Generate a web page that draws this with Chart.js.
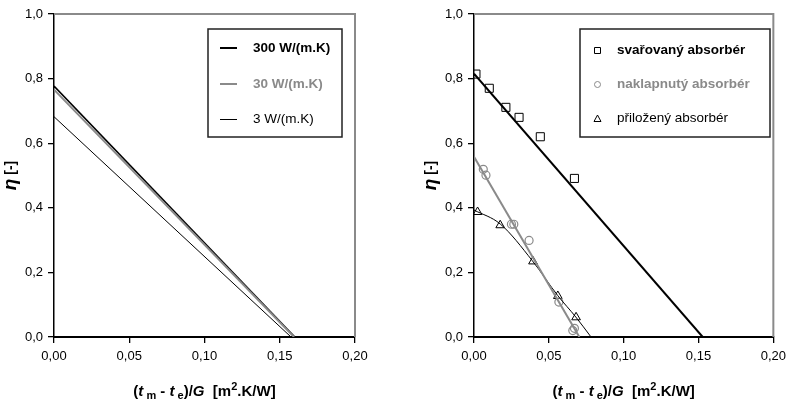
<!DOCTYPE html>
<html>
<head>
<meta charset="utf-8">
<script src="https://cdn.jsdelivr.net/npm/chart.js@4/dist/chart.umd.min.js"></script>
<style>
  html, body { margin: 0; padding: 0; background: #fff; }
  #wrap { position: relative; width: 792px; height: 401px; }
  canvas { position: absolute; top: 0; }
  #c1 { left: 0; }
  #c2 { left: 396px; }
</style>
</head>
<body>
<div id="wrap">
  <canvas id="c1" width="396" height="401"></canvas>
  <canvas id="c2" width="396" height="401"></canvas>
</div>
<script>
// ---------- Data ----------
const xTicks = [0, 0.05, 0.10, 0.15, 0.20];
const yTicks = [0, 0.2, 0.4, 0.6, 0.8, 1.0];

// Left chart: efficiency lines for different conductivities
const leftLabels = ['300 W/(m.K)', '30 W/(m.K)', '3 W/(m.K)'];
const line300X = [0, 0.160];
const line300Y = [0.777, 0];
const line30X  = [0, 0.1595];
const line30Y  = [0.766, 0];
const line3X   = [0, 0.1575];
const line3Y   = [0.682, 0];

// Right chart: measured points
const rightLabels = ['svařovaný absorbér', 'naklapnutý absorbér', 'přiložený absorbér'];
const svarX = [0.0013, 0.0102, 0.0213, 0.0301, 0.0443, 0.0671];
const svarY = [0.814, 0.770, 0.711, 0.680, 0.620, 0.491];
const svarFitX = [0, 0.1528];
const svarFitY = [0.815, 0];

const naklX = [0.0062, 0.0080, 0.0250, 0.0266, 0.0368, 0.0567, 0.0660, 0.0671];
const naklY = [0.519, 0.501, 0.349, 0.349, 0.299, 0.108, 0.020, 0.027];
const naklFitX = [0, 0.0704];
const naklFitY = [0.558, 0];

const prilX = [0.0024, 0.0175, 0.0394, 0.0560, 0.0682];
const prilY = [0.387, 0.346, 0.234, 0.127, 0.061];
const prilFitX = [0, 0.0175, 0.039, 0.056, 0.068, 0.0782];
const prilFitY = [0.393, 0.350, 0.236, 0.128, 0.062, 0];

const GRAY = '#8a8a8a';
const FONT = "'Liberation Sans', Arial, sans-serif";

function pts(xs, ys) { return xs.map((x, i) => ({ x: x, y: ys[i] })); }

function scalesCfg() {
  return {
    x: {
      type: 'linear', min: 0, max: 0.2,
      afterBuildTicks: s => { s.ticks = xTicks.map(v => ({ value: v })); },
      afterFit: s => { s.height = 64; },
      ticks: {
        color: '#000', font: { family: FONT, size: 13 }, padding: 6,
        callback: v => v.toFixed(2).replace('.', ',')
      },
      grid: { drawOnChartArea: false, drawTicks: true, tickLength: 6, color: '#000', lineWidth: 1.3 },
      border: { display: true, color: '#000', width: 2 }
    },
    y: {
      type: 'linear', min: 0, max: 1,
      afterBuildTicks: s => { s.ticks = yTicks.map(v => ({ value: v })); },
      afterFit: s => { s.width = 54; },
      ticks: {
        color: '#000', font: { family: FONT, size: 13 }, padding: 5,
        callback: v => v.toFixed(1).replace('.', ',')
      },
      grid: { drawOnChartArea: false, drawTicks: true, tickLength: 6, color: '#000', lineWidth: 1.3 },
      border: { display: true, color: '#000', width: 1.5 }
    }
  };
}

// frame (top & right gray) + axis titles
const decor = {
  id: 'decor',
  beforeDatasetsDraw(chart) {
    const { ctx, chartArea: a } = chart;
    ctx.save();
    ctx.strokeStyle = GRAY;
    ctx.lineWidth = 2;
    ctx.beginPath();
    ctx.moveTo(a.left, a.top);
    ctx.lineTo(a.right, a.top);
    ctx.lineTo(a.right, a.bottom);
    ctx.stroke();
    ctx.restore();
  },
  afterDraw(chart) {
    const { ctx, chartArea: a } = chart;
    ctx.save();
    // X title with sub/superscripts
    const B = 'bold 15px ' + FONT, I = 'italic bold 15px ' + FONT, S = 'bold 11px ' + FONT;
    const parts = [
      { t: '(', f: B, dy: 0 },
      { t: 't', f: I, dy: 0 },
      { t: ' m', f: S, dy: 3 },
      { t: ' - ', f: B, dy: 0 },
      { t: 't', f: I, dy: 0 },
      { t: ' e', f: S, dy: 3 },
      { t: ')/', f: B, dy: 0 },
      { t: 'G', f: I, dy: 0 },
      { t: '  [m', f: B, dy: 0 },
      { t: '2', f: S, dy: -6 },
      { t: '.K/W]', f: B, dy: 0 }
    ];
    let total = 0;
    parts.forEach(p => { ctx.font = p.f; p.w = ctx.measureText(p.t).width; total += p.w; });
    let x = (a.left + a.right) / 2 - total / 2;
    const yb = 396;
    ctx.fillStyle = '#000';
    ctx.textBaseline = 'alphabetic';
    ctx.textAlign = 'left';
    parts.forEach(p => { ctx.font = p.f; ctx.fillText(p.t, x, yb + p.dy); x += p.w; });

    // Y title rotated
    const cy = (a.top + a.bottom) / 2;
    ctx.translate(a.left - 43, cy);
    ctx.rotate(-Math.PI / 2);
    const yp = [
      { t: 'η', f: 'italic bold 19px ' + FONT },
      { t: ' [-]', f: 'bold 14px ' + FONT }
    ];
    let tw = 0;
    yp.forEach(p => { ctx.font = p.f; p.w = ctx.measureText(p.t).width; tw += p.w; });
    let xx = -tw / 2;
    ctx.textBaseline = 'middle';
    yp.forEach(p => { ctx.font = p.f; ctx.fillText(p.t, xx, 0); xx += p.w; });
    ctx.restore();
  }
};

function drawMarker(ctx, type, x, y, color) {
  ctx.save();
  ctx.strokeStyle = color;
  ctx.lineWidth = 1;
  ctx.beginPath();
  if (type === 'rect') { ctx.rect(x - 3, y - 3, 6, 6); }
  else if (type === 'circle') { ctx.arc(x, y, 3, 0, Math.PI * 2); }
  else { ctx.moveTo(x, y - 3.5); ctx.lineTo(x + 3.5, y + 3); ctx.lineTo(x - 3.5, y + 3); ctx.closePath(); }
  ctx.stroke();
  ctx.restore();
}

function legendPlugin(cfg) {
  return {
    id: 'boxLegend',
    afterDraw(chart) {
      const ctx = chart.ctx;
      ctx.save();
      ctx.fillStyle = '#fff';
      ctx.fillRect(cfg.x, cfg.y, cfg.w, cfg.h);
      ctx.strokeStyle = '#222';
      ctx.lineWidth = 1.5;
      ctx.strokeRect(cfg.x, cfg.y, cfg.w, cfg.h);
      cfg.items.forEach((it, i) => {
        const yy = Math.round(cfg.y + cfg.first + i * cfg.gap);
        if (it.line) {
          ctx.strokeStyle = it.color;
          ctx.lineWidth = it.lw;
          const ly = it.lw % 2 === 1 ? yy + 0.5 : yy;
          ctx.beginPath();
          ctx.moveTo(cfg.mx, ly);
          ctx.lineTo(cfg.mx + 17, ly);
          ctx.stroke();
        } else {
          drawMarker(ctx, it.marker, cfg.mx + 0.5, yy + 0.5, it.color);
        }
        ctx.font = (it.bold ? 'bold ' : '') + '13.5px ' + FONT;
        ctx.fillStyle = it.textColor;
        ctx.textBaseline = 'middle';
        ctx.textAlign = 'left';
        ctx.fillText(it.label, cfg.tx, yy);
      });
      ctx.restore();
    }
  };
}

// ---------- Left chart ----------
new Chart(document.getElementById('c1'), {
  type: 'scatter',
  data: {
    datasets: [
      { label: leftLabels[2], data: pts(line3X, line3Y), showLine: true, borderColor: '#000', borderWidth: 1, pointRadius: 0 },
      { label: leftLabels[1], data: pts(line30X, line30Y), showLine: true, borderColor: GRAY, borderWidth: 2, pointRadius: 0 },
      { label: leftLabels[0], data: pts(line300X, line300Y), showLine: true, borderColor: '#000', borderWidth: 1.6, pointRadius: 0 }
    ]
  },
  options: {
    responsive: false, animation: false,
    layout: { padding: { left: 0, right: 41, top: 14, bottom: 0 } },
    plugins: { legend: { display: false }, tooltip: { enabled: false } },
    scales: scalesCfg()
  },
  plugins: [decor, legendPlugin({
    x: 208, y: 29, w: 134, h: 108, first: 19, gap: 35.5, mx: 220, tx: 253,
    items: [
      { line: true, color: '#000', lw: 2, label: leftLabels[0], textColor: '#000', bold: true },
      { line: true, color: GRAY, lw: 2, label: leftLabels[1], textColor: GRAY, bold: true },
      { line: true, color: '#000', lw: 1, label: leftLabels[2], textColor: '#000', bold: false }
    ]
  })]
});

// ---------- Right chart ----------
new Chart(document.getElementById('c2'), {
  type: 'scatter',
  data: {
    datasets: [
      { label: 'fit1', data: pts(svarFitX, svarFitY), showLine: true, borderColor: '#000', borderWidth: 2, pointRadius: 0 },
      { label: 'fit2', data: pts(naklFitX, naklFitY), showLine: true, borderColor: GRAY, borderWidth: 2, pointRadius: 0 },
      { label: 'fit3', data: pts(prilFitX, prilFitY), showLine: true, borderColor: '#000', borderWidth: 1, pointRadius: 0, cubicInterpolationMode: 'monotone' },
      { label: rightLabels[0], data: pts(svarX, svarY), pointStyle: 'rect', pointRadius: 5.7, borderColor: '#000', borderWidth: 1, backgroundColor: 'rgba(0,0,0,0)' },
      { label: rightLabels[1], data: pts(naklX, naklY), pointStyle: 'circle', pointRadius: 4, borderColor: GRAY, borderWidth: 1.2, backgroundColor: 'rgba(0,0,0,0)' },
      { label: rightLabels[2], data: pts(prilX, prilY), pointStyle: 'triangle', pointRadius: 5, borderColor: '#000', borderWidth: 1, backgroundColor: 'rgba(0,0,0,0)' }
    ]
  },
  options: {
    responsive: false, animation: false,
    layout: { padding: { left: 24, right: 17, top: 14, bottom: 0 } },
    plugins: { legend: { display: false }, tooltip: { enabled: false } },
    scales: scalesCfg()
  },
  plugins: [decor, legendPlugin({
    x: 184, y: 29, w: 190, h: 108, first: 21, gap: 34, mx: 201, tx: 221,
    items: [
      { marker: 'rect', color: '#000', label: rightLabels[0], textColor: '#000', bold: true },
      { marker: 'circle', color: GRAY, label: rightLabels[1], textColor: GRAY, bold: true },
      { marker: 'triangle', color: '#000', label: rightLabels[2], textColor: '#000', bold: false }
    ]
  })]
});
</script>
</body>
</html>
